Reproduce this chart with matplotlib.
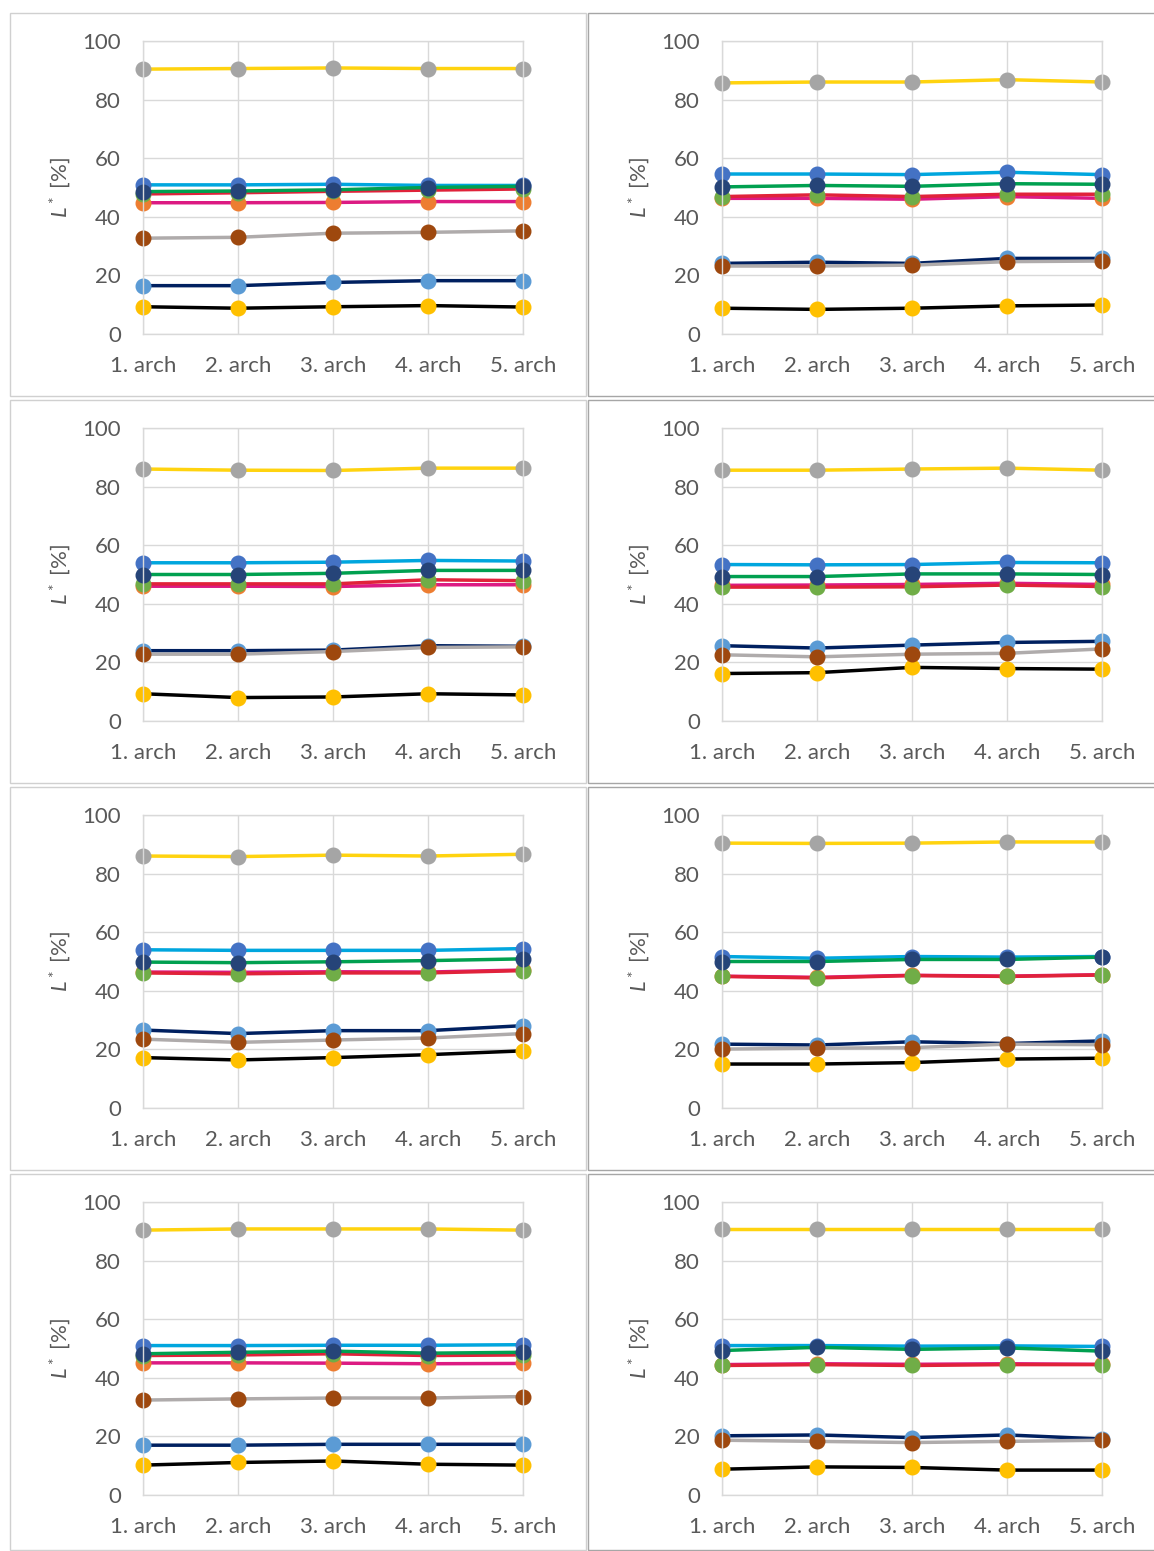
import matplotlib
matplotlib.use("Agg")
import matplotlib.pyplot as plt
from matplotlib.patches import Rectangle

plt.rcParams['font.family'] = ['Lato', 'DejaVu Sans']
plt.rcParams['mathtext.fontset'] = 'custom'
plt.rcParams['mathtext.rm'] = 'Lato'
plt.rcParams['mathtext.it'] = 'Lato:italic'

categories = ["1. arch", "2. arch", "3. arch", "4. arch", "5. arch"]
y_ticks = [0, 20, 40, 60, 80, 100]

# each list holds the 8 panels (row-major: left, right per row)
yellow_gray = [
    [90.4, 90.6, 90.8, 90.6, 90.6],
    [85.7, 86.0, 86.0, 86.8, 86.0],
    [86.0, 85.6, 85.5, 86.3, 86.3],
    [85.6, 85.6, 86.0, 86.3, 85.6],
    [86.0, 85.8, 86.3, 86.0, 86.6],
    [90.4, 90.3, 90.4, 90.8, 90.8],
    [90.4, 90.8, 90.8, 90.8, 90.4],
    [90.8, 90.8, 90.8, 90.8, 90.8],
]
black_yellow = [
    [9.3, 8.8, 9.3, 9.7, 9.2],
    [8.8, 8.4, 8.8, 9.6, 9.9],
    [9.3, 8.0, 8.2, 9.3, 8.9],
    [16.2, 16.5, 18.3, 17.9, 17.7],
    [17.2, 16.4, 17.2, 18.2, 19.5],
    [15.0, 15.0, 15.5, 16.7, 17.0],
    [10.2, 11.1, 11.6, 10.5, 10.2],
    [8.8, 9.6, 9.4, 8.5, 8.5],
]
navy_lightblue = [
    [16.5, 16.5, 17.6, 18.2, 18.2],
    [24.1, 24.5, 24.1, 25.8, 25.8],
    [24.0, 24.0, 24.2, 25.7, 25.5],
    [25.7, 24.9, 25.9, 26.8, 27.2],
    [26.6, 25.4, 26.4, 26.4, 28.1],
    [21.8, 21.5, 22.6, 22.0, 22.9],
    [17.0, 17.0, 17.3, 17.3, 17.3],
    [20.2, 20.5, 19.6, 20.5, 19.1],
]
gray_brown = [
    [32.7, 33.0, 34.4, 34.7, 35.2],
    [23.2, 23.2, 23.5, 24.7, 24.9],
    [22.8, 22.8, 23.7, 25.1, 25.3],
    [22.6, 21.9, 22.8, 23.1, 24.6],
    [23.5, 22.4, 23.2, 23.9, 25.4],
    [20.1, 20.4, 20.6, 21.8, 21.6],
    [32.4, 32.8, 33.1, 33.1, 33.6],
    [18.7, 18.3, 17.9, 18.3, 18.7],
]
magenta_orange = [
    [44.8, 44.8, 44.9, 45.2, 45.2],
    [46.3, 46.3, 46.0, 46.9, 46.3],
    [46.0, 46.0, 45.9, 46.5, 46.5],
    [46.3, 46.4, 46.6, 47.0, 46.6],
    [46.4, 46.3, 46.5, 46.4, 47.1],
    [45.0, 44.6, 45.3, 45.0, 45.5],
    [45.1, 45.1, 45.0, 44.8, 44.9],
    [44.5, 44.8, 44.6, 44.8, 44.6],
]
red_green = [
    [47.8, 48.2, 48.7, 49.1, 49.5],
    [46.9, 47.5, 46.9, 47.7, 47.7],
    [46.8, 46.8, 46.8, 48.2, 47.9],
    [45.7, 45.7, 45.8, 46.4, 45.9],
    [46.1, 45.8, 46.1, 46.1, 46.9],
    [44.9, 44.4, 45.2, 44.9, 45.4],
    [47.6, 47.8, 48.2, 47.6, 47.8],
    [44.2, 44.5, 44.2, 44.5, 44.5],
]
cyan_blue = [
    [50.9, 50.9, 51.1, 50.7, 50.7],
    [54.6, 54.6, 54.4, 55.2, 54.4],
    [54.0, 54.0, 54.2, 54.8, 54.6],
    [53.4, 53.3, 53.4, 54.1, 54.0],
    [54.0, 53.8, 53.8, 53.8, 54.4],
    [51.7, 51.1, 51.7, 51.5, 51.7],
    [51.0, 51.0, 51.1, 51.1, 51.3],
    [51.0, 51.0, 50.8, 50.9, 50.7],
]
green_navy = [
    [48.6, 48.8, 49.2, 50.0, 50.4],
    [50.2, 50.7, 50.4, 51.3, 51.1],
    [50.0, 50.0, 50.4, 51.4, 51.4],
    [49.3, 49.3, 50.2, 50.2, 50.0],
    [49.8, 49.6, 49.9, 50.3, 50.9],
    [50.0, 50.0, 50.7, 50.7, 51.5],
    [48.2, 48.7, 49.1, 48.4, 48.7],
    [49.3, 50.4, 49.7, 50.2, 49.1],
]

series = [
    (yellow_gray, "#FFD30F", "#A5A5A5"),
    (black_yellow, "#000000", "#FFC000"),
    (navy_lightblue, "#002060", "#5B9BD5"),
    (gray_brown, "#AFABAB", "#9E480E"),
    (magenta_orange, "#DC1A82", "#ED7D31"),
    (red_green, "#E0223A", "#70AD47"),
    (cyan_blue, "#00A6DE", "#4472C4"),
    (green_navy, "#00A050", "#264478"),
]

W, H = 1154, 1551
fig = plt.figure(figsize=(W / 100, H / 100), dpi=100)

# panel frames
for r in range(4):
    top = 13 + r * 387
    bot = min(396 + r * 387, H - 1)
    fig.patches.append(Rectangle((10 / W, 1 - bot / H), 576 / W, (bot - top) / H,
                                 transform=fig.transFigure, fill=False,
                                 edgecolor="#D0D0D0", lw=1.0))
    fig.patches.append(Rectangle((588 / W, 1 - bot / H), 600 / W, (bot - top) / H,
                                 transform=fig.transFigure, fill=False,
                                 edgecolor="#A6A6A6", lw=1.0))

x = list(range(len(categories)))
for p in range(8):
    r, c = divmod(p, 2)
    left = 143 + c * 579
    top = 41 + r * 387
    ax = fig.add_axes([left / W, 1 - (top + 293) / H, 380 / W, 293 / H])
    for data, lc, mc in series:
        ax.plot(x, data[p], color=lc, lw=2.5, marker="o", ms=10.5,
                markerfacecolor=mc, markeredgecolor=mc, clip_on=False)
    ax.set_xlim(0, 4)
    ax.set_ylim(0, 100)
    ax.set_xticks(x)
    ax.set_xticklabels(categories)
    ax.set_yticks(y_ticks)
    ax.grid(True, color="#D9D9D9", lw=1.0)
    ax.set_axisbelow(True)
    for s in ax.spines.values():
        s.set_color("#D9D9D9")
        s.set_linewidth(1.0)
    ax.tick_params(length=0, labelsize=16, colors="#595959")
    ax.tick_params(axis="y", pad=16)
    ax.tick_params(axis="x", pad=16)
    ax.set_ylabel(r"$L^*$ [%]", fontsize=16, color="#595959")
    ax.yaxis.set_label_coords(-70 / 380, 0.5)

fig.savefig("out.png", dpi=100, facecolor="white")
